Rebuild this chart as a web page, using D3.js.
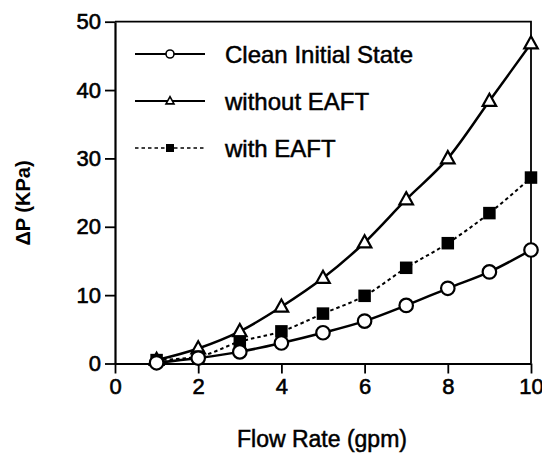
<!DOCTYPE html>
<html>
<head>
<meta charset="utf-8">
<script src="https://cdn.jsdelivr.net/npm/d3@7"></script>
<style>
  body { margin: 0; background: #fff; }
  svg { display: block; }
</style>
</head>
<body>
<div id="chart"></div>
<script>
// data
const flowRate = [1, 2, 3, 4, 5, 6, 7, 8, 9, 10];
const cleanState = [0.1, 0.8, 1.7, 3.0, 4.5, 6.2, 8.5, 11.0, 13.4, 16.6];
const withoutEAFT = [0.5, 2.2, 4.7, 8.3, 12.5, 17.7, 24.0, 30.0, 38.4, 46.8];
const withEAFT = [0.5, 1.0, 3.2, 4.7, 7.3, 9.9, 14.0, 17.6, 22.0, 27.2];
const xTicks = [0, 2, 4, 6, 8, 10];
const yTicks = [0, 10, 20, 30, 40, 50];
const seriesNames = ["Clean Initial State", "without EAFT", "with EAFT"];

const width = 542;
const height = 453;
const font = "'Liberation Sans', Arial, Helvetica, sans-serif";

const svg = d3.select("#chart")
    .append("svg")
    .attr("width", width)
    .attr("height", height)
    .style("font-family", font);

const x = d3.scaleLinear().domain([0, 10]).range([115, 531]);
const y = d3.scaleLinear().domain([0, 50]).range([363.5, 21.7]);

// frame (top + right)
svg.append("path")
    .attr("d", `M${x(0)},${y(50)}H${x(10)}V${y(0)}`)
    .attr("fill", "none")
    .attr("stroke", "#000")
    .attr("stroke-width", 1.8);

// axes
const xAxis = svg.append("g")
    .attr("transform", `translate(0,${y(0)})`)
    .call(d3.axisBottom(x).tickValues(xTicks).tickSize(10).tickSizeOuter(0).tickPadding(5));

const yAxis = svg.append("g")
    .attr("transform", `translate(${x(0)},0)`)
    .call(d3.axisLeft(y).tickValues(yTicks).tickSize(10).tickSizeOuter(0).tickPadding(4));

[xAxis, yAxis].forEach(g => {
    g.select(".domain").attr("stroke-width", 2.2);
    g.selectAll(".tick line").attr("stroke-width", 1.8);
    g.selectAll(".tick text")
        .attr("font-size", "22px")
        .attr("font-family", font)
        .attr("fill", "#000")
        .attr("stroke", "#000")
        .attr("stroke-width", 0.6);
});

// series
const series = [
    { name: seriesNames[0], values: cleanState, marker: "circle", dash: null },
    { name: seriesNames[1], values: withoutEAFT, marker: "triangle", dash: null },
    { name: seriesNames[2], values: withEAFT, marker: "square", dash: "3.5,3" }
];

const line = d3.line()
    .x((d, i) => x(flowRate[i]))
    .y(d => y(d))
    .curve(d3.curveMonotoneX);

function drawMarker(g, type, cx, cy, s, sw) {
    if (type === "circle") {
        g.append("circle").attr("cx", cx).attr("cy", cy).attr("r", s / 2)
            .attr("fill", "#fff").attr("stroke", "#000").attr("stroke-width", sw);
    } else if (type === "triangle") {
        const h = s * 0.9;
        g.append("path")
            .attr("d", `M${cx},${cy - h * 0.6}L${cx + s / 2},${cy + h * 0.4}L${cx - s / 2},${cy + h * 0.4}Z`)
            .attr("fill", "#fff").attr("stroke", "#000").attr("stroke-width", sw);
    } else {
        g.append("rect").attr("x", cx - s / 2).attr("y", cy - s / 2)
            .attr("width", s).attr("height", s).attr("fill", "#000");
    }
}

// draw order: triangles, squares, circles on top
[series[1], series[2], series[0]].forEach(s => {
    svg.append("path")
        .datum(s.values)
        .attr("d", line)
        .attr("fill", "none")
        .attr("stroke", "#000")
        .attr("stroke-width", s.dash ? 2 : 2.5)
        .attr("stroke-dasharray", s.dash);
    const g = svg.append("g");
    s.values.forEach((v, i) => drawMarker(g, s.marker, x(flowRate[i]), y(v), s.marker === "square" ? 12.5 : 13.5, 2.2));
});

// legend
const legendY = [54, 101, 148];
series.forEach((s, i) => {
    const g = svg.append("g");
    g.append("line")
        .attr("x1", 135).attr("x2", 205)
        .attr("y1", legendY[i]).attr("y2", legendY[i])
        .attr("stroke", "#000")
        .attr("stroke-width", s.dash ? 1.5 : 1.8)
        .attr("stroke-dasharray", s.dash);
    drawMarker(g, s.marker, 170, legendY[i], 8, 1.6);
    g.append("text")
        .attr("x", 225)
        .attr("y", legendY[i] + 8.5)
        .attr("font-size", "24px")
        .attr("stroke", "#000")
        .attr("stroke-width", 0.5)
        .text(s.name);
});

// axis titles
svg.append("text")
    .attr("x", 322)
    .attr("y", 447)
    .attr("text-anchor", "middle")
    .attr("font-size", "23px")
    .attr("stroke", "#000")
    .attr("stroke-width", 0.5)
    .text("Flow Rate (gpm)");

svg.append("text")
    .attr("transform", "translate(30,203) rotate(-90)")
    .attr("text-anchor", "middle")
    .attr("font-size", "20px")
    .attr("font-weight", "bold")
    .text("ΔP (KPa)");
</script>
</body>
</html>
